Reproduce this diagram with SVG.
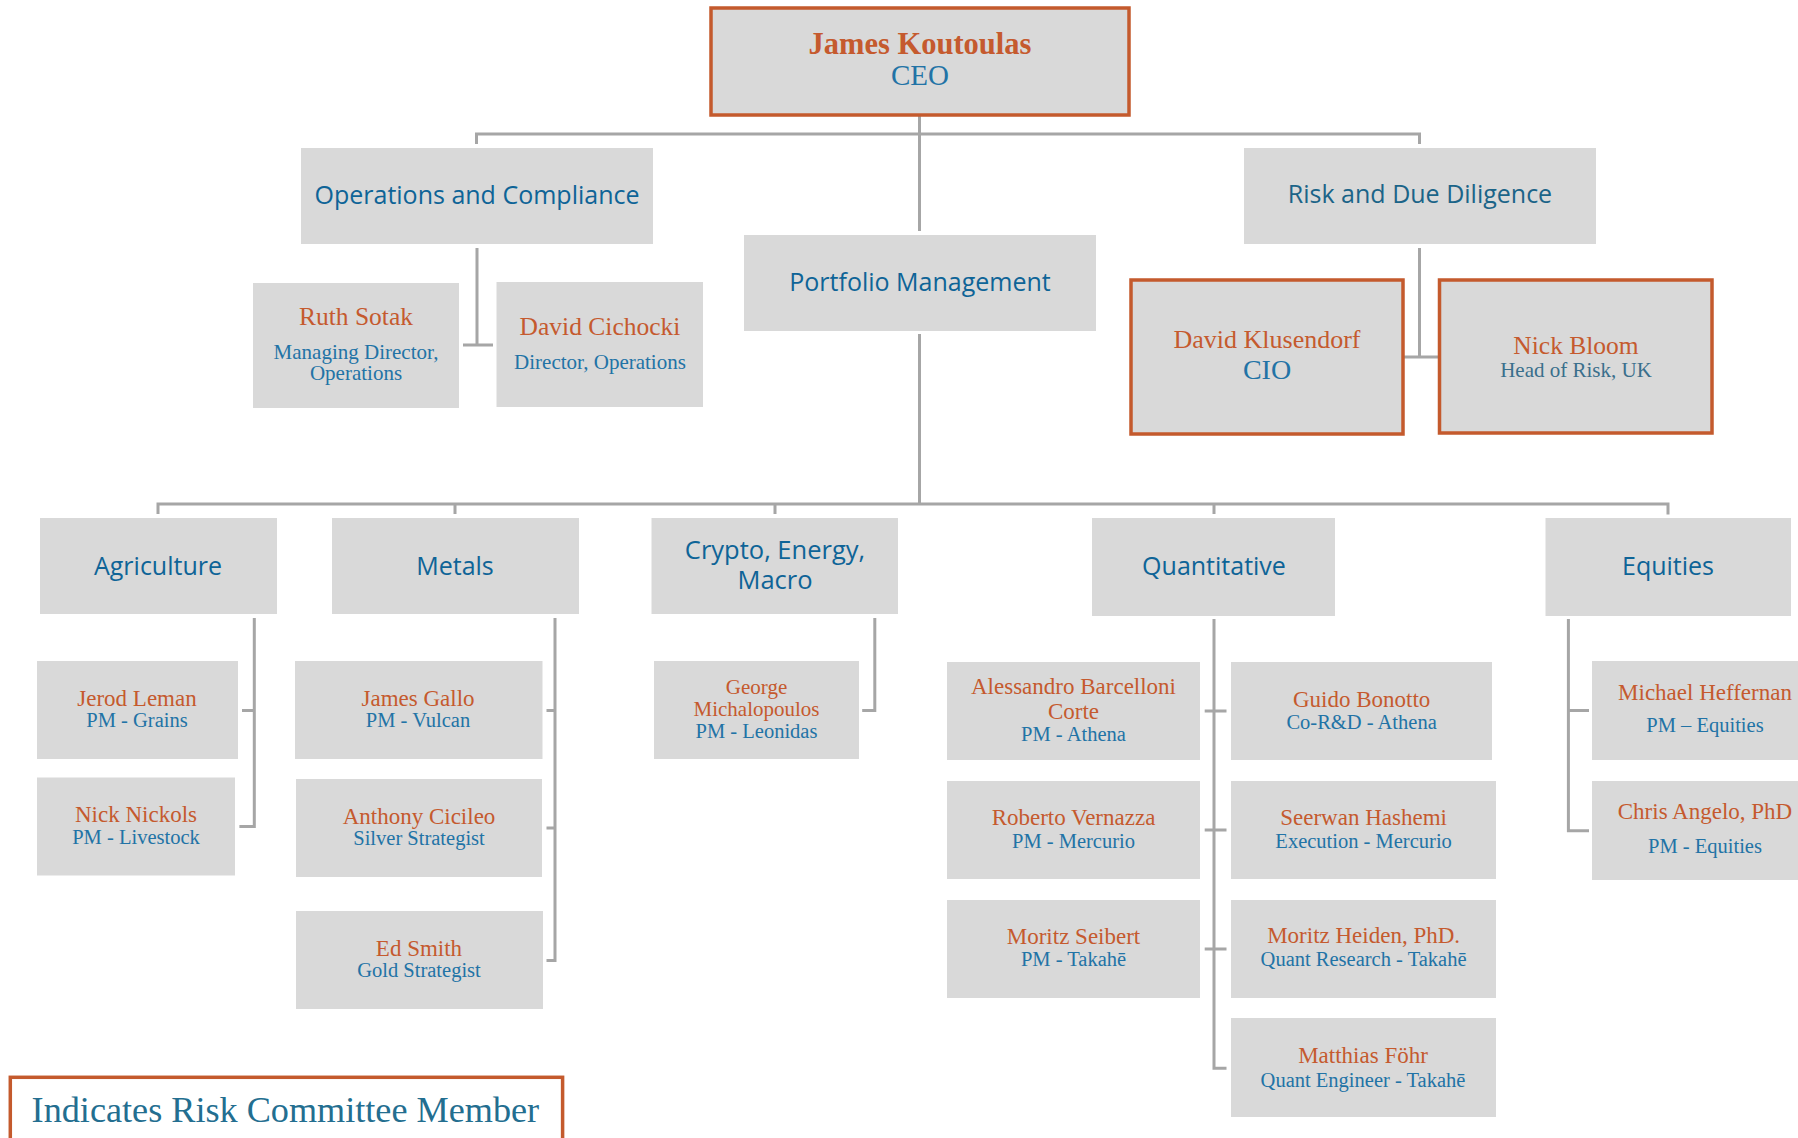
<svg xmlns="http://www.w3.org/2000/svg" width="1798" height="1138" viewBox="0 0 1798 1138">
<style>
.box{fill:#D9D9D9}
.rc{fill:#D9D9D9;stroke:#C45A2D;stroke-width:3.5}
.hdr{font-family:"Open Sans","DejaVu Sans",sans-serif;font-size:25px;fill:#0E6497;text-anchor:middle}
.nm{font-family:"Liberation Serif",serif;font-size:23px;fill:#C55A2E;text-anchor:middle}
.sub{font-family:"Liberation Serif",serif;font-size:20.5px;fill:#2273A6;text-anchor:middle}
.nmL{font-size:25.5px}
.subL{font-size:21px}
.conn path{stroke:#A6A6A6;stroke-width:3;fill:none}
</style>
<rect width="1798" height="1138" fill="#FFFFFF"/>
<g class="conn" id="connectors">
<path d="M476.5,144 V134 H1419.5 V144"/>
<path d="M919.5,115 V231"/>
<path d="M477,248 V345 M463,345 H493"/>
<path d="M1419.5,248 V357 M1404,357 H1438"/>
<path d="M919.5,334 V504"/>
<path d="M158,514 V504 H1668 V514.6 M455,504 V514 M775,504 V514 M1214,504 V514"/>
<path d="M254.3,618 V826.4 H239.4 M242,710.4 H254.3"/>
<path d="M555,618 V960.4 H546.5 M546.5,710.4 H555 M546.5,828 H555"/>
<path d="M874.8,618 V710.4 H862.2"/>
<path d="M1214,619 V1068.3 H1226.5 M1204.7,711 H1226.5 M1204.7,830 H1226.5 M1204.7,949 H1226.5"/>
<path d="M1568.4,619 V830.7 H1589 M1568.4,710.4 H1589"/>
</g>
<g id="ceo">
<rect class="rc" x="711" y="8" width="418" height="107"/>
<text class="nm" x="920" y="54" style="font-size:30.5px;font-weight:bold">James Koutoulas</text>
<text class="sub" x="920" y="85" style="font-size:29px">CEO</text>
</g>
<g id="ops">
<rect class="box" x="301" y="148" width="352" height="96"/>
<text class="hdr" x="477" y="204">Operations and Compliance</text>
</g>
<g id="ruth">
<rect class="box" x="253" y="283" width="206" height="125"/>
<text class="nm nmL" x="356" y="325">Ruth Sotak</text>
<text class="sub subL" x="356" y="359">Managing Director,</text>
<text class="sub subL" x="356" y="380">Operations</text>
</g>
<g id="cichocki">
<rect class="box" x="496.5" y="282" width="206.5" height="125"/>
<text class="nm nmL" x="600" y="335">David Cichocki</text>
<text class="sub subL" x="600" y="369">Director, Operations</text>
</g>
<g id="portfolio">
<rect class="box" x="744" y="235" width="352" height="96"/>
<text class="hdr" x="920" y="291">Portfolio Management</text>
</g>
<g id="risk">
<rect class="box" x="1244" y="148" width="352" height="96"/>
<text class="hdr" x="1420" y="203" style="fill:#1B6488">Risk and Due Diligence</text>
</g>
<g id="klusendorf">
<rect class="rc" x="1131" y="280" width="272" height="154"/>
<text class="nm" x="1267" y="348" style="font-size:26px">David Klusendorf</text>
<text class="sub" x="1267" y="379" style="font-size:28px">CIO</text>
</g>
<g id="bloom">
<rect class="rc" x="1439.5" y="280" width="272.5" height="153"/>
<text class="nm nmL" x="1576" y="354">Nick Bloom</text>
<text class="sub subL" x="1576" y="377" style="fill:#3A6F8C">Head of Risk, UK</text>
</g>
<g id="agriculture">
<rect class="box" x="40" y="518" width="237" height="96"/>
<text class="hdr" x="158" y="575">Agriculture</text>
</g>
<g id="metals">
<rect class="box" x="332" y="518" width="247" height="96"/>
<text class="hdr" x="455" y="575">Metals</text>
</g>
<g id="crypto">
<rect class="box" x="651.5" y="518" width="246.5" height="96"/>
<text class="hdr" style="font-size:25.5px"><tspan x="775" y="559">Crypto, Energy,</tspan><tspan x="775" y="589">Macro</tspan></text>
</g>
<g id="quant">
<rect class="box" x="1092" y="518" width="243" height="98"/>
<text class="hdr" x="1214" y="575">Quantitative</text>
</g>
<g id="equities">
<rect class="box" x="1545.5" y="518" width="245.5" height="98"/>
<text class="hdr" x="1668" y="575">Equities</text>
</g>
<g id="leman">
<rect class="box" x="37" y="661" width="201" height="98"/>
<text class="nm" x="137" y="706">Jerod Leman</text>
<text class="sub" x="137" y="727">PM - Grains</text>
</g>
<g id="nickols">
<rect class="box" x="37" y="777.5" width="198" height="98"/>
<text class="nm" x="136" y="822">Nick Nickols</text>
<text class="sub" x="136" y="843.6">PM - Livestock</text>
</g>
<g id="gallo">
<rect class="box" x="295" y="661" width="247.5" height="98"/>
<text class="nm" x="418" y="706">James Gallo</text>
<text class="sub" x="418" y="727">PM - Vulcan</text>
</g>
<g id="cicileo">
<rect class="box" x="296" y="779" width="246" height="98"/>
<text class="nm" x="419" y="823.6">Anthony Cicileo</text>
<text class="sub" x="419" y="845.4">Silver Strategist</text>
</g>
<g id="smith">
<rect class="box" x="296" y="911" width="247" height="98"/>
<text class="nm" x="419" y="955.7">Ed Smith</text>
<text class="sub" x="419" y="977">Gold Strategist</text>
</g>
<g id="michalopoulos">
<rect class="box" x="654" y="661" width="205" height="98"/>
<text class="nm" x="756.5" y="693.6" style="font-size:21px">George</text>
<text class="nm" x="756.5" y="715.7" style="font-size:21px">Michalopoulos</text>
<text class="sub" x="756.5" y="738">PM - Leonidas</text>
</g>
<g id="barcelloni">
<rect class="box" x="947" y="662" width="253" height="98"/>
<text class="nm" x="1073.5" y="694.3">Alessandro Barcelloni</text>
<text class="nm" x="1073.5" y="718.6">Corte</text>
<text class="sub" x="1073.5" y="740.7">PM - Athena</text>
</g>
<g id="bonotto">
<rect class="box" x="1231" y="662" width="261" height="98"/>
<text class="nm" x="1361.6" y="707">Guido Bonotto</text>
<text class="sub" x="1361.6" y="729">Co-R&amp;D - Athena</text>
</g>
<g id="vernazza">
<rect class="box" x="947" y="781" width="253" height="98"/>
<text class="nm" x="1073.5" y="825.4">Roberto Vernazza</text>
<text class="sub" x="1073.5" y="848">PM - Mercurio</text>
</g>
<g id="hashemi">
<rect class="box" x="1231" y="781" width="265" height="98"/>
<text class="nm" x="1363.6" y="825.4">Seerwan Hashemi</text>
<text class="sub" x="1363.6" y="848">Execution - Mercurio</text>
</g>
<g id="seibert">
<rect class="box" x="947" y="900" width="253" height="98"/>
<text class="nm" x="1073.5" y="944.3">Moritz Seibert</text>
<text class="sub" x="1073.5" y="966.4">PM - Takahē</text>
</g>
<g id="heiden">
<rect class="box" x="1231" y="900" width="265" height="98"/>
<text class="nm" x="1363.6" y="943.2">Moritz Heiden, PhD.</text>
<text class="sub" x="1363.6" y="966.4">Quant Research - Takahē</text>
</g>
<g id="fohr">
<rect class="box" x="1231" y="1018" width="265" height="99"/>
<text class="nm" x="1363" y="1062.7">Matthias Föhr</text>
<text class="sub" x="1363" y="1087.3">Quant Engineer - Takahē</text>
</g>
<g id="heffernan">
<rect class="box" x="1592" y="661" width="220" height="99"/>
<text class="nm" x="1705" y="699.6">Michael Heffernan</text>
<text class="sub" x="1705" y="731.8">PM – Equities</text>
</g>
<g id="angelo">
<rect class="box" x="1592" y="781" width="220" height="99"/>
<text class="nm" x="1705" y="819.3">Chris Angelo, PhD</text>
<text class="sub" x="1705" y="852.5">PM - Equities</text>
</g>
<g id="legend">
<rect x="10.3" y="1077.3" width="552.3" height="80" fill="#FFFFFF" stroke="#C45A2D" stroke-width="3.5"/>
<text x="31.6" y="1121.7" style="font-family:'Liberation Serif',serif;font-size:36.2px;fill:#236E90">Indicates Risk Committee Member</text>
</g>
</svg>
